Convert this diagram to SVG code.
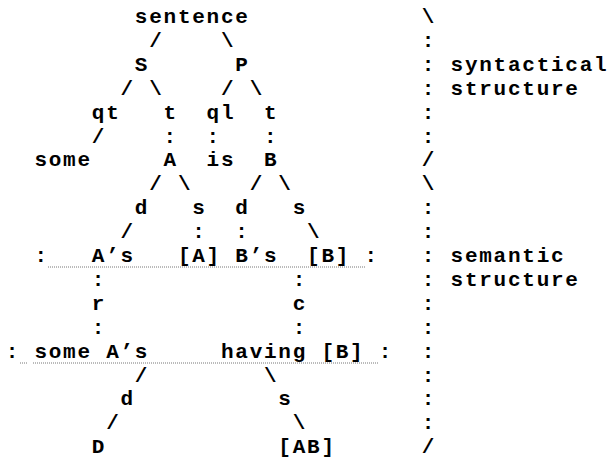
<svg xmlns="http://www.w3.org/2000/svg" width="609" height="461" viewBox="0 0 609 461">
<style>
text { font-family: "Liberation Mono", "DejaVu Sans Mono", monospace; font-size: 21px; font-weight: bold; letter-spacing: 1.75px; fill: #000; }
.rule { stroke: #777; stroke-width: 1; stroke-dasharray: 1 1; fill: none; }
</style>
<rect width="609" height="461" fill="#fff"/>
<g id="connectors">
  <!-- row 1 -->
  <text x="149.2" y="46.9">/</text><text x="220.95" y="46.9">\</text>
  <!-- row 3 -->
  <text x="120.5" y="94.7">/</text><text x="149.2" y="94.7">\</text>
  <text x="220.95" y="94.7">/</text><text x="249.65" y="94.7">\</text>
  <!-- row 5 -->
  <text x="91.8" y="142.5">/</text><text x="163.55" y="142.5">:</text>
  <text x="206.6" y="142.5">:</text><text x="264" y="142.5">:</text>
  <!-- row 7 -->
  <text x="149.2" y="190.3">/</text><text x="177.9" y="190.3">\</text>
  <text x="249.65" y="190.3">/</text><text x="278.35" y="190.3">\</text>
  <!-- row 9 -->
  <text x="120.5" y="238.1">/</text><text x="192.25" y="238.1">:</text>
  <text x="235.3" y="238.1">:</text><text x="307.05" y="238.1">\</text>
  <!-- row 11 -->
  <text x="91.8" y="285.9">:</text><text x="292.7" y="285.9">:</text>
  <!-- row 13 -->
  <text x="91.8" y="333.7">:</text><text x="292.7" y="333.7">:</text>
  <!-- row 15 -->
  <text x="134.85" y="381.5">/</text><text x="264" y="381.5">\</text>
  <!-- row 17 -->
  <text x="106.15" y="429.3">/</text><text x="292.7" y="429.3">\</text>
  <!-- semantic level boxes -->
  <text x="34.4" y="262">:</text><text x="364.45" y="262">:</text>
  <line class="rule" x1="48" y1="267" x2="365" y2="267"/>
  <text x="5.7" y="357.6">:</text><text x="378.8" y="357.6">:</text>
  <line class="rule" x1="20" y1="363" x2="28" y2="363"/>
  <line class="rule" x1="33" y1="363" x2="378" y2="363"/>
  <!-- right-hand bracket -->
  <text x="421.85" y="23">\</text>
  <text x="421.85" y="46.9">:</text><text x="421.85" y="70.8">:</text><text x="421.85" y="94.7">:</text>
  <text x="421.85" y="118.6">:</text><text x="421.85" y="142.5">:</text>
  <text x="421.85" y="166.4">/</text>
  <text x="421.85" y="190.3">\</text>
  <text x="421.85" y="214.2">:</text><text x="421.85" y="238.1">:</text><text x="421.85" y="262">:</text>
  <text x="421.85" y="285.9">:</text><text x="421.85" y="309.8">:</text><text x="421.85" y="333.7">:</text>
  <text x="421.85" y="357.6">:</text><text x="421.85" y="381.5">:</text><text x="421.85" y="405.4">:</text>
  <text x="421.85" y="429.3">:</text>
  <text x="421.85" y="453.2">/</text>
</g>
<g id="n-sentence"><text x="134.85" y="23">sentence</text></g>
<g id="n-S"><text x="134.85" y="70.8">S</text></g>
<g id="n-P"><text x="235.3" y="70.8">P</text></g>
<g id="n-qt"><text x="91.8" y="118.6">qt</text></g>
<g id="n-t1"><text x="163.55" y="118.6">t</text></g>
<g id="n-ql"><text x="206.6" y="118.6">ql</text></g>
<g id="n-t2"><text x="264" y="118.6">t</text></g>
<g id="n-some"><text x="34.4" y="166.4">some</text></g>
<g id="n-A"><text x="163.55" y="166.4">A</text></g>
<g id="n-is"><text x="206.6" y="166.4">is</text></g>
<g id="n-B"><text x="264" y="166.4">B</text></g>
<g id="n-d1"><text x="134.85" y="214.2">d</text></g>
<g id="n-s1"><text x="192.25" y="214.2">s</text></g>
<g id="n-d2"><text x="235.3" y="214.2">d</text></g>
<g id="n-s2"><text x="292.7" y="214.2">s</text></g>
<g id="n-As"><text x="91.8" y="262">A’s</text></g>
<g id="n-Abr"><text x="177.9" y="262">[A]</text></g>
<g id="n-Bs"><text x="235.3" y="262">B’s</text></g>
<g id="n-Bbr"><text x="307.05" y="262">[B]</text></g>
<g id="n-r"><text x="91.8" y="309.8">r</text></g>
<g id="n-c"><text x="292.7" y="309.8">c</text></g>
<g id="n-someAs"><text x="34.4" y="357.6">some A’s</text></g>
<g id="n-havingB"><text x="220.95" y="357.6">having [B]</text></g>
<g id="n-d3"><text x="120.5" y="405.4">d</text></g>
<g id="n-s3"><text x="278.35" y="405.4">s</text></g>
<g id="n-D"><text x="91.8" y="453.2">D</text></g>
<g id="n-AB"><text x="278.35" y="453.2">[AB]</text></g>
<g id="label-syntactical"><text x="450.55" y="70.8">syntactical</text><text x="450.55" y="94.7">structure</text></g>
<g id="label-semantic"><text x="450.55" y="262">semantic</text><text x="450.55" y="285.9">structure</text></g>
</svg>
